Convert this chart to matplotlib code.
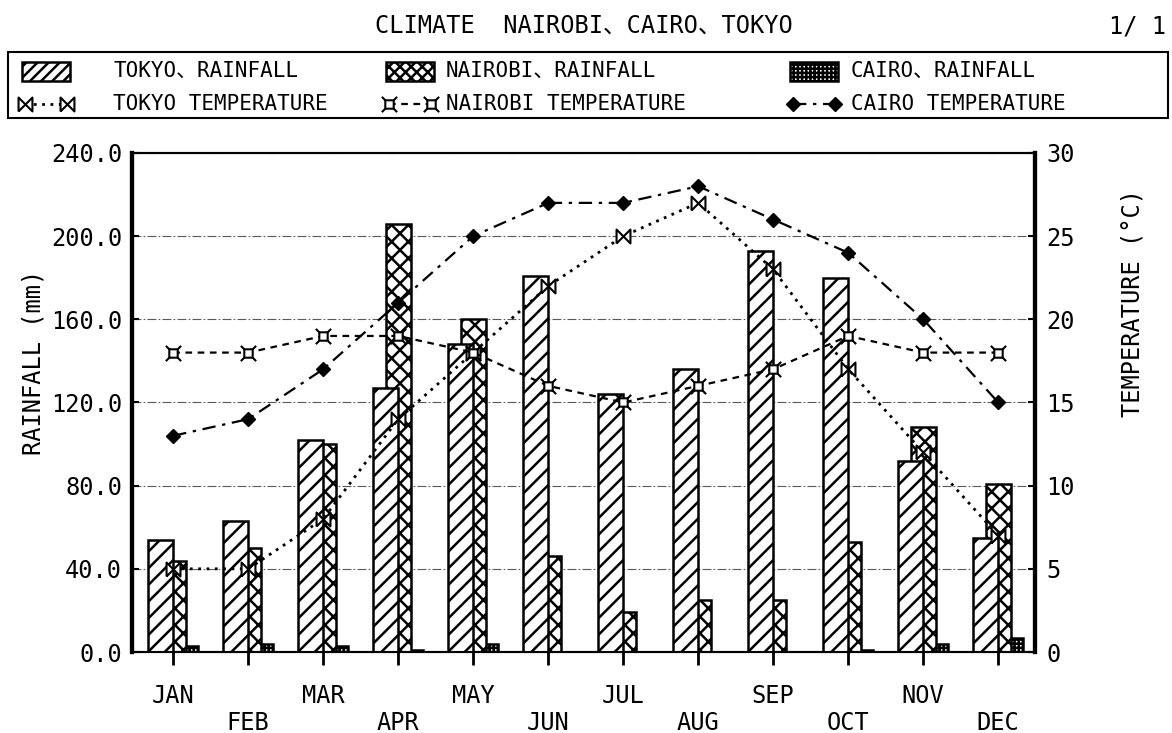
import numpy as np
import matplotlib
matplotlib.use("Agg")
import matplotlib.pyplot as plt
from matplotlib.path import Path
from matplotlib.patches import Rectangle
from matplotlib.lines import Line2D

plt.rcParams['font.family'] = ['DejaVu Sans Mono', 'Noto Sans CJK JP']
plt.rcParams['hatch.linewidth'] = 1.8

months = ['JAN', 'FEB', 'MAR', 'APR', 'MAY', 'JUN',
          'JUL', 'AUG', 'SEP', 'OCT', 'NOV', 'DEC']

# rainfall (mm)
tokyo_rain = [54, 63, 102, 127, 148, 181, 124, 136, 193, 180, 92, 55]
nairobi_rain = [44, 50, 100, 206, 160, 46, 19, 25, 25, 53, 108, 81]
cairo_rain = [3, 4, 3, 1, 4, 0, 0, 0, 0, 1, 4, 6.5]

# temperature (deg C)
tokyo_temp = [5, 5, 8, 14, 18, 22, 25, 27, 23, 17, 12, 7]
nairobi_temp = [18, 18, 19, 19, 18, 16, 15, 16, 17, 19, 18, 18]
cairo_temp = [13, 14, 17, 21, 25, 27, 27, 28, 26, 24, 20, 15]

# custom markers
M, L, C = Path.MOVETO, Path.LINETO, Path.CLOSEPOLY
bowtie = Path([(-1, -1), (-1, 1), (1, -1), (1, 1), (-1, -1)],
              [M, L, L, L, L])
s = 0.55
spiky = Path([(-s, -s), (s, -s), (s, s), (-s, s), (-s, -s),
              (-s, s), (-1, 1), (s, s), (1, 1),
              (-s, -s), (-1, -1), (s, -s), (1, -1)],
             [M, L, L, L, C, M, L, M, L, M, L, M, L])

bar_style = dict(facecolor='white', edgecolor='black', linewidth=1.8)
tokyo_line = dict(color='black', linestyle=(0, (1, 2)), linewidth=2,
                  marker=bowtie, markersize=10, markerfacecolor='white', markeredgewidth=1.5)
nairobi_line = dict(color='black', linestyle=(0, (3, 2.5)), linewidth=1.6,
                    marker=spiky, markersize=11, markerfacecolor='white', markeredgewidth=1.5)
cairo_line = dict(color='black', linestyle=(0, (6, 3, 1.5, 3)), linewidth=1.6,
                  marker='D', markersize=7, markerfacecolor='black')

fig = plt.figure(figsize=(11.72, 7.33), dpi=100)

# legend drawn by hand in pixel coordinates
lax = fig.add_axes([0, 0, 1, 1])
lax.set_xlim(0, 1172)
lax.set_ylim(733, 0)
lax.axis('off')
lax.add_patch(Rectangle((8, 52), 1160, 66, fill=False, edgecolor='black', linewidth=1.5))
cols = [(22, 113), (386, 446), (790, 851)]
rain_items = [('///', 'TOKYO、RAINFALL'), ('xxx', 'NAIROBI、RAINFALL'), ('++++', 'CAIRO、RAINFALL')]
temp_items = [(tokyo_line, 'TOKYO TEMPERATURE'), (nairobi_line, 'NAIROBI TEMPERATURE'),
              (cairo_line, 'CAIRO TEMPERATURE')]
for (px, tx), (h, lab) in zip(cols, rain_items):
    lax.add_patch(Rectangle((px, 62), 48, 19, hatch=h, **bar_style))
    lax.text(tx, 71, lab, fontsize=15, va='center', ha='left')
for (px, tx), (st, lab) in zip(cols, temp_items):
    lax.add_line(Line2D([px + 3, px + 45], [104, 104], **st))
    lax.text(tx, 104, lab, fontsize=15, va='center', ha='left')

ax = fig.add_axes([0.1126, 0.1105, 0.7705, 0.6808])
ax2 = ax.twinx()

x = np.arange(len(months))
w = 1 / 3
ax.bar(x + w / 2, cairo_rain, w, hatch='++++', zorder=1, **bar_style)
ax.bar(x, nairobi_rain, w, hatch='xx', zorder=2, **bar_style)
ax.bar(x - w / 2, tokyo_rain, w, hatch='//', zorder=3, **bar_style)

ax.set_xlim(-0.55, 11.49)
ax.set_ylim(0, 240)
ax.set_yticks(np.arange(0, 241, 40))
ax.set_yticklabels(['%.1f' % v for v in np.arange(0, 241, 40)], fontsize=17)
ax.set_axisbelow(True)
ax.yaxis.grid(True, linestyle=(0, (8, 2, 1.5, 2)), linewidth=0.8, color='0.35')
ax.set_xticks(x)
ax.set_xticklabels([m if i % 2 == 0 else '\n' + m for i, m in enumerate(months)],
                   fontsize=17, linespacing=1.15)
ax.tick_params(axis='x', direction='out', length=9, width=2, pad=14)
ax.tick_params(axis='y', direction='in', length=5, width=1.5, pad=7)
ax.set_ylabel('RAINFALL (mm)', fontsize=17)
ax.yaxis.set_label_coords(-0.096, 0.58)

ax2.plot(x, tokyo_temp, **tokyo_line)
ax2.plot(x, nairobi_temp, **nairobi_line)
ax2.plot(x, cairo_temp, **cairo_line)
ax2.set_ylim(0, 30)
ax2.set_yticks(np.arange(0, 31, 5))
ax2.set_yticklabels([str(v) for v in range(0, 31, 5)], fontsize=17)
ax2.tick_params(axis='y', direction='in', length=5, width=1.5, pad=8)
ax2.set_ylabel('TEMPERATURE (°C)', fontsize=17)
ax2.yaxis.set_label_coords(1.095, 0.70)

for a in (ax, ax2):
    a.spines['left'].set_linewidth(3)
    a.spines['right'].set_linewidth(3)
    a.spines['top'].set_linewidth(1.5)
    a.spines['bottom'].set_linewidth(1.5)

fig.text(0.498, 0.9645, 'CLIMATE  NAIROBI、CAIRO、TOKYO', ha='center', va='center',
         fontsize=17)
fig.text(0.995, 0.9645, '1/ 1', ha='right', va='center', fontsize=17)

fig.savefig('out.png', dpi=100)
